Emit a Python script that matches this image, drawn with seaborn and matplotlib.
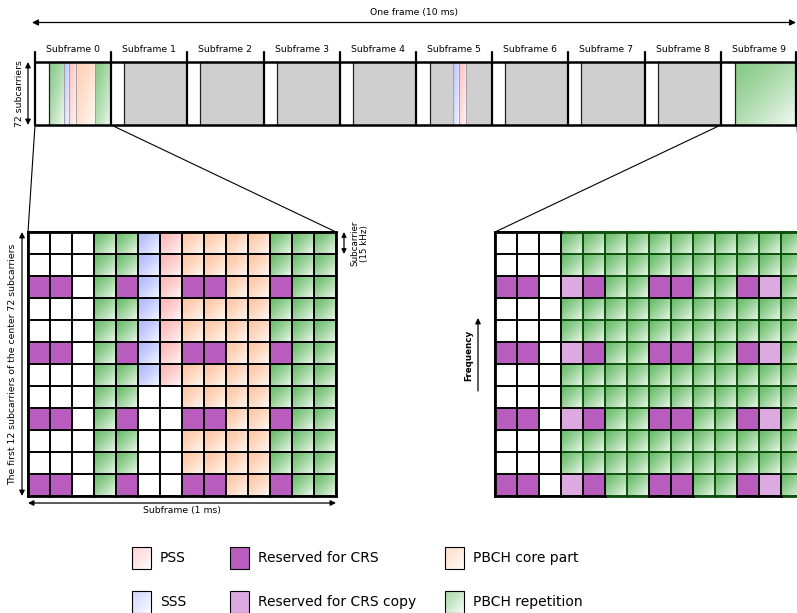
import numpy as np
import matplotlib.pyplot as plt
import seaborn as sns
from matplotlib.colors import ListedColormap, to_rgb
from matplotlib.patches import Rectangle

sns.set_style('white')
plt.rcParams['font.family'] = ['DejaVu Sans']
plt.rcParams['text.color'] = 'black'

W, H = 797, 613

# cell types: . empty, C CRS, c CRS copy, P PSS, S SSS, B PBCH core, R PBCH repetition, G other data
colors = {'.': '#ffffff', 'C': '#b85cbd', 'c': '#dcaae0', 'P': '#ffb4b4',
          'S': '#adb8ff', 'B': '#ffc4a0', 'R': '#68bc68', 'G': '#cfcfcf'}
gradient_types = 'PSBR'
order = '.CcPSBR'

subframe_labels = ['Subframe 0', 'Subframe 1', 'Subframe 2', 'Subframe 3', 'Subframe 4',
                   'Subframe 5', 'Subframe 6', 'Subframe 7', 'Subframe 8', 'Subframe 9']
# content of each subframe in the frame bar (type, width out of 76)
default_sf = [('.', 13), ('G', 63)]
special_sf = {0: [('.', 14), ('R', 15), ('S', 5), ('P', 7), ('B', 19), ('R', 16)],
              5: [('.', 14), ('G', 23), ('S', 6), ('P', 7), ('G', 26)],
              9: [('.', 14), ('R', 62)]}

left_grid = ["...RRSPBBBBRRR",
             "...RRSPBBBBRRR",
             "CC.RCSPCCBBCRR",
             "...RRSPBBBBRRR",
             "...RRSPBBBBRRR",
             "CC.RCSPCCBBCRR",
             "...RRSPBBBBRRR",
             "...RR..BBBBRRR",
             "CC.RC..CCBBCRR",
             "...RR..BBBBRRR",
             "...RR..BBBBRRR",
             "CC.RC..CCBBCRR"]

right_grid = ["...RRRRRRRRRRR",
              "...RRRRRRRRRRR",
              "CC.cCRRCCRRCcR",
              "...RRRRRRRRRRR",
              "...RRRRRRRRRRR",
              "CC.cCRRCCRRCcR",
              "...RRRRRRRRRRR",
              "...RRRRRRRRRRR",
              "CC.cCRRCCRRCcR",
              "...RRRRRRRRRRR",
              "...RRRRRRRRRRR",
              "CC.cCRRCCRRCcR"]

legend_items = [('P', 'PSS'), ('S', 'SSS'), ('C', 'Reserved for CRS'),
                ('c', 'Reserved for CRS copy'), ('B', 'PBCH core part'), ('R', 'PBCH repetition')]

# layout (pixels)
frame_x0, frame_x1, bar_y0, bar_y1 = 35, 797, 62, 125
cell = 22
left_origin = (28, 232)
right_origin = (495, 232)


def fade(n, strength=0.93, power=1.3):
    u = (np.arange(n) + 0.5) / n
    return strength * ((u[None, :] + u[:, None]) / 2) ** power


def gradient(color, n=40, strength=0.93, light=0.0):
    t = fade(n, strength)
    c = np.array(to_rgb(color)) * (1 - light) + light
    return c[None, None, :] * (1 - t[..., None]) + t[..., None]


def box(ax, x, y, w, h, kind, ec=None, lw=0.0, z=1, strength=0.93, light=0.0):
    if kind in gradient_types:
        ax.imshow(gradient(colors[kind], 40, strength, light), extent=(x, x + w, y + h, y),
                  aspect='auto', interpolation='bilinear', zorder=z)
    else:
        ax.add_patch(Rectangle((x, y), w, h, fc=colors[kind], ec='none', zorder=z))
    if ec is not None:
        ax.add_patch(Rectangle((x, y), w, h, fill=False, ec=ec, lw=lw, zorder=z + 1))


fig = plt.figure(figsize=(W / 100, H / 100), dpi=100)
ax = fig.add_axes([0, 0, 1, 1])

# frame arrow and title
ax.annotate('', xy=(frame_x1 - 1, 22.5), xytext=(32, 22.5),
            arrowprops=dict(arrowstyle='<|-|>', color='black', lw=0.9,
                            mutation_scale=9, shrinkA=0, shrinkB=0))
ax.text(414, 13, 'One frame (10 ms)', ha='center', va='center', fontsize=6.7)

sf_w = (frame_x1 - frame_x0) / len(subframe_labels)
for i, label in enumerate(subframe_labels):
    x0 = frame_x0 + i * sf_w
    ax.text(x0 + sf_w / 2, 49.5, label, ha='center', va='center', fontsize=6.7)
    segs = special_sf.get(i, default_sf)
    total = sum(s[1] for s in segs)
    xs = x0
    for k, (kind, w) in enumerate(segs):
        ww = w / total * sf_w
        box(ax, xs, bar_y0, ww, bar_y1 - bar_y0, kind, light=0.2)
        if k > 0:
            col = '#222222' if k == 1 else '#9a9a9a'
            ax.plot([xs, xs], [bar_y0, bar_y1], color=col, lw=0.9 if k == 1 else 0.6, zorder=3)
        xs += ww
    ax.plot([x0, x0], [52, bar_y1], color='black', lw=1.6, zorder=4)
ax.plot([frame_x1 - 1, frame_x1 - 1], [52, bar_y1], color='black', lw=1.6, zorder=4)
ax.plot([frame_x0, frame_x1], [bar_y0, bar_y0], color='black', lw=1.8, zorder=4)
ax.plot([frame_x0, frame_x1], [bar_y1, bar_y1], color='black', lw=1.8, zorder=4)

ax.annotate('', xy=(28, bar_y0), xytext=(28, bar_y1),
            arrowprops=dict(arrowstyle='<|-|>', color='black', lw=0.9,
                            mutation_scale=8, shrinkA=0, shrinkB=0))
ax.text(20, 93.5, '72 subcarriers', rotation=90, ha='center', va='center', fontsize=6.7)

# zoom lines from the frame bar to the grids
nrows, ncols = len(left_grid), len(left_grid[0])
gw, gh = ncols * cell, nrows * cell
for (bx, (gx, gy)) in [(frame_x0, left_origin), (frame_x0 + 9 * sf_w, right_origin)]:
    ax.plot([bx, gx], [bar_y1, gy], color='black', lw=0.8)
    ax.plot([bx + sf_w, gx + gw], [bar_y1, gy], color='black', lw=0.8)

# annotations around the left grid
lx, ly = left_origin
ax.annotate('', xy=(lx - 6, ly), xytext=(lx - 6, ly + gh),
            arrowprops=dict(arrowstyle='<|-|>', color='black', lw=0.9,
                            mutation_scale=8, shrinkA=0, shrinkB=0))
ax.text(13, ly + gh / 2, 'The first 12 subcarriers of the center 72 subcarriers',
        rotation=90, ha='center', va='center', fontsize=6.7)
ax.annotate('', xy=(lx, ly + gh + 7), xytext=(lx + gw, ly + gh + 7),
            arrowprops=dict(arrowstyle='<|-|>', color='black', lw=0.9,
                            mutation_scale=8, shrinkA=0, shrinkB=0))
ax.text(lx + gw / 2, ly + gh + 15, 'Subframe (1 ms)', ha='center', va='center', fontsize=6.7)
ax.annotate('', xy=(lx + gw + 8, ly), xytext=(lx + gw + 8, ly + cell),
            arrowprops=dict(arrowstyle='<|-|>', color='black', lw=0.9,
                            mutation_scale=7, shrinkA=0, shrinkB=0))
ax.text(lx + gw + 24, ly + 11, 'Subcarrier\n(15 kHz)', rotation=90, ha='center',
        va='center', multialignment='center', fontsize=6.3, linespacing=1.1)

rx, ry = right_origin
ax.annotate('', xy=(rx - 17, 318), xytext=(rx - 17, 391),
            arrowprops=dict(arrowstyle='-|>', color='black', lw=0.9,
                            mutation_scale=8, shrinkA=0, shrinkB=0))
ax.text(rx - 26, 355, 'Frequency', rotation=90, ha='center', va='center',
        fontsize=6.3, fontweight='bold')

# legend
col_x = [132, 230, 445]
row_y = [558, 602]
for idx, (kind, label) in enumerate(legend_items):
    cx, cy = col_x[idx // 2], row_y[idx % 2]
    box(ax, cx, cy - 11, 19, 22, kind, ec='black', lw=0.8, z=2, strength=0.97, light=0.45)
    ax.text(cx + 28, cy, label, ha='left', va='center', fontsize=10)

ax.set_xlim(0, W)
ax.set_ylim(H, 0)
ax.set_axis_off()


def draw_grid(grid, origin, green_edges):
    x0, y0 = origin
    gax = fig.add_axes([x0 / W, 1 - (y0 + gh) / H, gw / W, gh / H])
    codes = np.array([[order.index(ch) for ch in row] for row in grid])
    sns.heatmap(codes, cmap=ListedColormap([colors[k] for k in order]), vmin=-0.5,
                vmax=len(order) - 0.5, cbar=False, xticklabels=False, yticklabels=False,
                ax=gax)
    # white gradient over the gradient-filled cells
    cell_alpha = fade(24)
    mask = np.isin(np.array([list(r) for r in grid]), list(gradient_types)).astype(float)
    alpha = np.kron(mask, cell_alpha)
    overlay = np.ones(alpha.shape + (4,))
    overlay[..., 3] = alpha
    gax.imshow(overlay, extent=(0, ncols, nrows, 0), aspect='auto',
               interpolation='bilinear', zorder=2)
    # cell borders: green ones first, black ones on top
    passes = [('#0d4f0d', lambda ch: green_edges and ch == 'R'),
              ('black', lambda ch: not (green_edges and ch == 'R'))]
    for z, (ec, sel) in enumerate(passes):
        for i, row in enumerate(grid):
            for j, ch in enumerate(row):
                if not sel(ch):
                    continue
                gax.add_patch(Rectangle((j, i), 1, 1, fill=False, ec=ec, lw=1.2,
                                        zorder=3 + z, clip_on=False))
                segs = []
                if i == 0:
                    segs.append(([j, j + 1], [0, 0]))
                if i == nrows - 1:
                    segs.append(([j, j + 1], [nrows, nrows]))
                if j == 0:
                    segs.append(([0, 0], [i, i + 1]))
                for sx, sy in segs:
                    gax.plot(sx, sy, color=ec, lw=2.0, zorder=3 + z, clip_on=False,
                             solid_capstyle='projecting')
    if not green_edges:
        gax.plot([ncols, ncols], [0, nrows], color='black', lw=2.0, zorder=5, clip_on=False)
    gax.set_xlim(0, ncols)
    gax.set_ylim(nrows, 0)
    gax.set_axis_off()
    return gax


draw_grid(left_grid, left_origin, False)
draw_grid(right_grid, right_origin, True)

fig.savefig('out.png', dpi=100)
